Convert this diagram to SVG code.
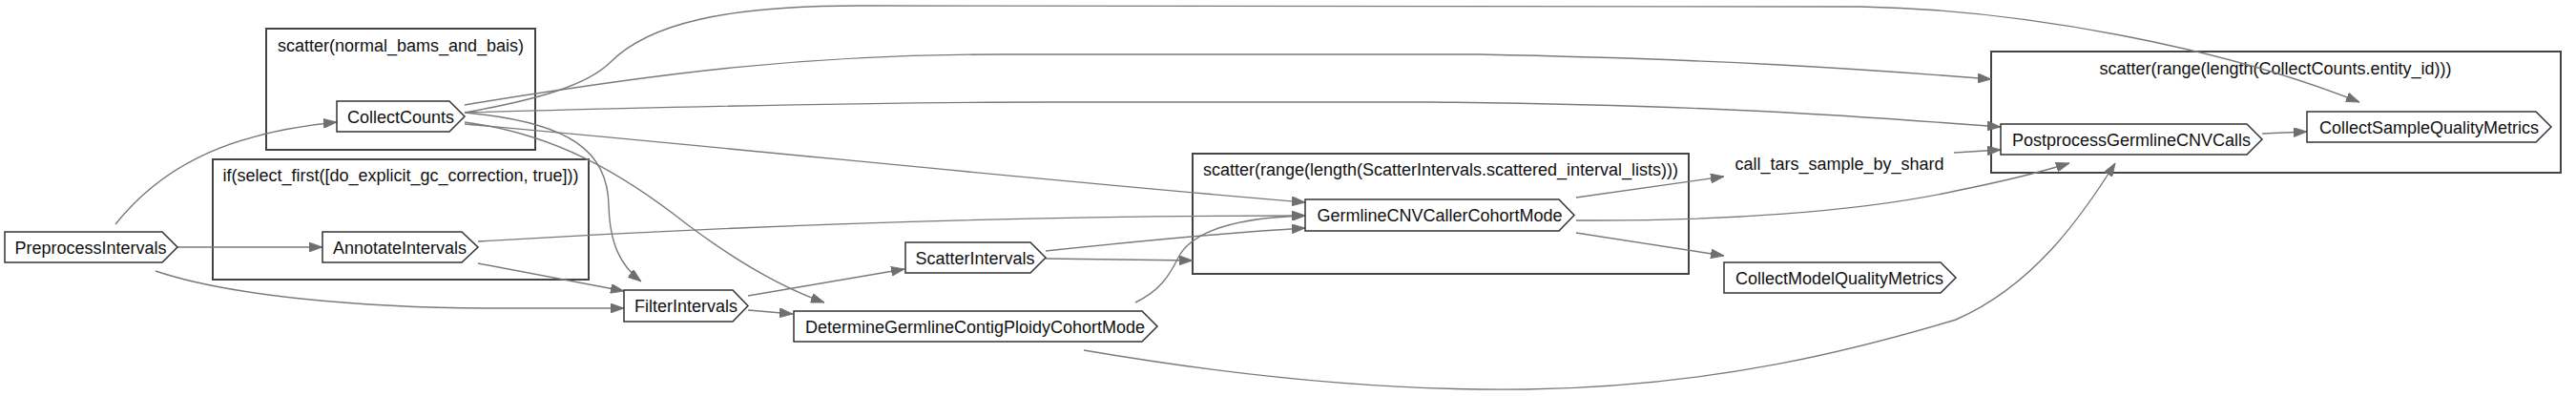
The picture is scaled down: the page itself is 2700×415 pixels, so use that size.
<svg xmlns="http://www.w3.org/2000/svg" width="2700" height="415" viewBox="0 0 2700 415">
<style>
.bg{fill:#ffffff}
.cl{fill:none;stroke:#444;stroke-width:2}
.nd{fill:#ffffff;stroke:#333;stroke-width:1.5}
.t{font-family:"Liberation Sans",Arial,sans-serif;font-size:18px;fill:#111;text-anchor:middle}
.e{fill:none;stroke:#7a7a7a;stroke-width:1.4;marker-end:url(#ah)}
</style>
<defs>
<marker id="ah" viewBox="0 0 14 10" refX="14" refY="5" markerWidth="14" markerHeight="10" markerUnits="userSpaceOnUse" orient="auto">
<path d="M0,0 L14,5 L0,10 Z" fill="#6f6f6f" stroke="#6f6f6f" stroke-width="0.8"/>
</marker>
</defs>
<rect class="bg" x="0" y="0" width="2700" height="415"/>

<g id="cluster_normal_bams">
<rect class="cl" x="279" y="30" width="282" height="127"/>
<text class="t" x="420" y="54">scatter(normal_bams_and_bais)</text>
</g>
<g id="cluster_gc_correction">
<rect class="cl" x="223" y="167" width="394" height="126"/>
<text class="t" x="420" y="190">if(select_first([do_explicit_gc_correction, true]))</text>
</g>
<g id="cluster_scattered_intervals">
<rect class="cl" x="1250" y="161" width="520" height="126"/>
<text class="t" x="1510" y="184">scatter(range(length(ScatterIntervals.scattered_interval_lists)))</text>
</g>
<g id="cluster_entity_id">
<rect class="cl" x="2087" y="54" width="597" height="127"/>
<text class="t" x="2385" y="78">scatter(range(length(CollectCounts.entity_id)))</text>
</g>

<g id="edges">
<path class="e" d="M121,235 C165,180 230,140 353,128"/>
<path class="e" d="M186,259 L338,259"/>
<path class="e" d="M163,284 C240,310 380,323 520,323 L654,323"/>
<path class="e" d="M501,276 L654,305"/>
<path class="e" d="M501,253 C800,235 1100,226 1368,226"/>
<path class="e" d="M487,118 C600,128 637,160 638,215 C639,255 650,278 672,295"/>
<path class="e" d="M487,128 C580,140 650,180 720,235 C780,280 830,305 864,317"/>
<path class="e" d="M487,130 C800,158 1100,190 1368,212"/>
<path class="e" d="M487,118 C560,105 615,90 640,65 C680,25 760,6 900,6 L1950,7 C2120,10 2330,50 2473,107"/>
<path class="e" d="M487,110 C700,75 850,57 1050,57 L1550,57 C1800,62 1950,72 2087,83"/>
<path class="e" d="M487,118 C700,112 900,107 1100,107 L1500,107 C1800,110 1950,122 2097,133"/>
<path class="e" d="M784,310 L948,282"/>
<path class="e" d="M784,325 L831,329"/>
<path class="e" d="M1096,263 C1200,252 1300,243 1368,239"/>
<path class="e" d="M1096,271 L1250,273"/>
<path class="e" d="M1190,317 C1215,305 1225,290 1235,270 C1250,240 1300,228 1368,226"/>
<path class="e" d="M1136,367 C1300,395 1450,410 1600,408 C1800,405 1950,365 2050,335 C2130,300 2180,230 2217,171"/>
<path class="e" d="M1652,207 L1807,185"/>
<path class="e" d="M1652,244 L1807,268"/>
<path class="e" d="M1652,231 C1800,232 1950,222 2050,200 C2110,188 2140,180 2169,171"/>
<path class="e" d="M2048,160 L2097,157"/>
<path class="e" d="M2371,140 L2418,138"/>
</g>

<g id="PreprocessIntervals">
<path class="nd" d="M5,243 H170 L186,259 L170,275 H5 Z"/>
<text class="t" x="95" y="265.5">PreprocessIntervals</text>
</g>
<g id="CollectCounts">
<path class="nd" d="M353,106 H471 L487,122 L471,138 H353 Z"/>
<text class="t" x="420" y="128.5">CollectCounts</text>
</g>
<g id="AnnotateIntervals">
<path class="nd" d="M338,243 H484 L501,259 L484,275 H338 Z"/>
<text class="t" x="419" y="265.5">AnnotateIntervals</text>
</g>
<g id="FilterIntervals">
<path class="nd" d="M654,304 H768 L784,320.5 L768,337 H654 Z"/>
<text class="t" x="719" y="327">FilterIntervals</text>
</g>
<g id="ScatterIntervals">
<path class="nd" d="M949,254 H1080 L1096,270 L1080,286 H949 Z"/>
<text class="t" x="1022" y="276.5">ScatterIntervals</text>
</g>
<g id="DetermineGermlineContigPloidyCohortMode">
<path class="nd" d="M832,326 H1197 L1213,342 L1197,358 H832 Z"/>
<text class="t" x="1022" y="348.5">DetermineGermlineContigPloidyCohortMode</text>
</g>
<g id="GermlineCNVCallerCohortMode">
<path class="nd" d="M1368,209 H1634 L1650,225.5 L1634,242 H1368 Z"/>
<text class="t" x="1509" y="232">GermlineCNVCallerCohortMode</text>
</g>
<g id="call_tars_sample_by_shard">
<text class="t" x="1928" y="177.5">call_tars_sample_by_shard</text>
</g>
<g id="CollectModelQualityMetrics">
<path class="nd" d="M1807,275 H2034 L2050,291 L2034,307 H1807 Z"/>
<text class="t" x="1928" y="297.5">CollectModelQualityMetrics</text>
</g>
<g id="PostprocessGermlineCNVCalls">
<path class="nd" d="M2097,130 H2355 L2371,146 L2355,162 H2097 Z"/>
<text class="t" x="2234" y="152.5">PostprocessGermlineCNVCalls</text>
</g>
<g id="CollectSampleQualityMetrics">
<path class="nd" d="M2418,117 H2658 L2674,133 L2658,149 H2418 Z"/>
<text class="t" x="2546" y="139.5">CollectSampleQualityMetrics</text>
</g>
</svg>
